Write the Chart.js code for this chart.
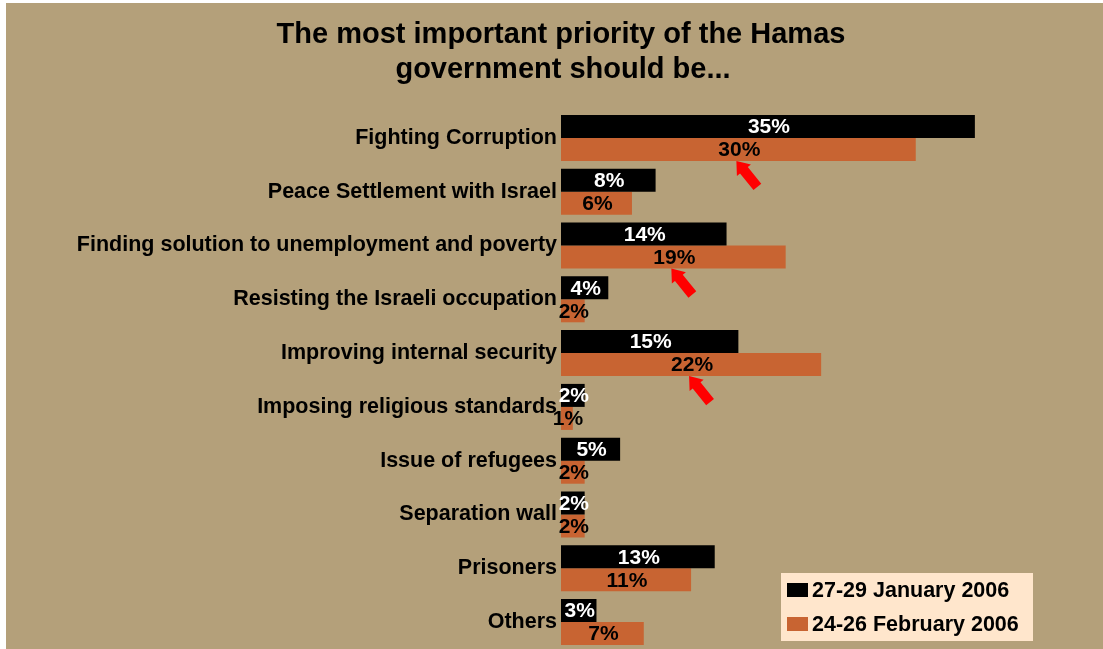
<!DOCTYPE html>
<html>
<head>
<meta charset="utf-8">
<script src="https://cdn.jsdelivr.net/npm/chart.js@4/dist/chart.umd.min.js"></script>
<style>
  html, body { margin: 0; padding: 0; background: #ffffff; }
  #wrap { width: 1103px; height: 649px; position: relative; }
</style>
</head>
<body>
<div id="wrap"><canvas id="prioChart"></canvas></div>
<script>
// --- data ---
const categories = [
  'Fighting Corruption',
  'Peace Settlement with Israel',
  'Finding solution to unemployment and poverty',
  'Resisting the Israeli occupation',
  'Improving internal security',
  'Imposing religious standards',
  'Issue of refugees',
  'Separation wall',
  'Prisoners',
  'Others',
];
const janValues = [35, 8, 14, 4, 15, 2, 5, 2, 13, 3];
const febValues = [30, 6, 19, 2, 22, 1, 2, 2, 11, 7];
const seriesLabels = ['27-29 January 2006', '24-26 February 2006'];
const titleLines = ['The most important priority of the Hamas', 'government should be...'];
// rows where a red arrow points at the February value
const arrowRows = ['Fighting Corruption', 'Finding solution to unemployment and poverty', 'Improving internal security'];

const COLORS = { jan: '#000000', feb: '#c86432', bg: '#b4a07a', legend: '#ffe6cc', arrow: '#ff0000' };
const FONT = '"Liberation Sans", Arial, sans-serif';

// Plugin: tan background, leaving the thin white strip top/left
Chart.register({
  id: 'bgFill',
  beforeDraw: function (chart) {
    var ctx = chart.ctx;
    ctx.save();
    ctx.fillStyle = COLORS.bg;
    ctx.fillRect(6, 3, chart.width - 6, chart.height - 3);
    ctx.restore();
  },
});

// Plugin: two-line title, value labels, arrows, legend box
Chart.register({
  id: 'decor',
  afterDatasetsDraw: function (chart) {
    var ctx = chart.ctx;
    ctx.save();

    // title
    ctx.fillStyle = '#000';
    ctx.textAlign = 'center';
    ctx.textBaseline = 'middle';
    ctx.font = 'bold 29px ' + FONT;
    ctx.fillText(titleLines[0], 561, 35);
    ctx.fillText(titleLines[1], 563, 70);

    // value labels, centred on each bar
    ctx.font = 'bold 21px ' + FONT;
    chart.data.datasets.forEach(function (ds, di) {
      var meta = chart.getDatasetMeta(di);
      ctx.fillStyle = di === 0 ? '#ffffff' : '#000000';
      meta.data.forEach(function (bar, i) {
        var cx = (bar.x + bar.base) / 2;
        ctx.fillText(ds.data[i] + '%', cx + 1, bar.y + 1);
      });
    });

    // red arrows under some February labels
    var febMeta = chart.getDatasetMeta(1);
    ctx.fillStyle = COLORS.arrow;
    arrowRows.forEach(function (name) {
      var i = categories.indexOf(name);
      var bar = febMeta.data[i];
      var tipX = (bar.x + bar.base) / 2 - 2;
      var tipY = bar.y + bar.height / 2;
      drawArrow(ctx, tipX + 21, tipY + 26, tipX, tipY);
    });

    // legend
    ctx.fillStyle = COLORS.legend;
    ctx.fillRect(781, 573, 252, 68);
    ctx.textAlign = 'left';
    ctx.font = 'bold 21.5px ' + FONT;
    seriesLabels.forEach(function (lbl, k) {
      var y = 590 + k * 34;
      ctx.fillStyle = chart.data.datasets[k].backgroundColor;
      ctx.fillRect(787, y - 7, 21, 14);
      ctx.fillStyle = '#000';
      ctx.fillText(lbl, 812, y + 1);
    });
    ctx.restore();
  },
});

function drawArrow(ctx, x0, y0, x1, y1) {
  var dx = x1 - x0, dy = y1 - y0;
  var len = Math.sqrt(dx * dx + dy * dy);
  var ux = dx / len, uy = dy / len;
  var px = -uy, py = ux;
  var sw = 5, hw = 9, hl = 12;
  var bx = x1 - ux * hl, by = y1 - uy * hl;
  ctx.beginPath();
  ctx.moveTo(x0 + px * sw, y0 + py * sw);
  ctx.lineTo(bx + px * sw, by + py * sw);
  ctx.lineTo(bx + px * hw, by + py * hw);
  ctx.lineTo(x1, y1);
  ctx.lineTo(bx - px * hw, by - py * hw);
  ctx.lineTo(bx - px * sw, by - py * sw);
  ctx.lineTo(x0 - px * sw, y0 - py * sw);
  ctx.closePath();
  ctx.fill();
}

new Chart(document.getElementById('prioChart'), {
  type: 'bar',
  data: {
    labels: categories,
    datasets: [
      { label: seriesLabels[0], data: janValues, backgroundColor: COLORS.jan },
      { label: seriesLabels[1], data: febValues, backgroundColor: COLORS.feb },
    ],
  },
  options: {
    indexAxis: 'y',
    responsive: true,
    maintainAspectRatio: false,
    animation: false,
    layout: { padding: { top: 111, right: 69, bottom: 0, left: 0 } },
    datasets: { bar: { categoryPercentage: 0.855, barPercentage: 1.0 } },
    plugins: { legend: { display: false }, title: { display: false }, tooltip: { enabled: false } },
    scales: {
      x: { min: 0, max: 40, display: false },
      y: {
        grid: { display: false, drawTicks: false },
        border: { display: false },
        ticks: { color: '#000', font: { family: FONT, size: 21.5, weight: 'bold' }, padding: 4, autoSkip: false },
        afterFit: function (scale) {
          scale.width = 561;
          scale.paddingTop = 0;
          scale.paddingBottom = 0;
        },
      },
    },
  },
});
</script>
</body>
</html>
